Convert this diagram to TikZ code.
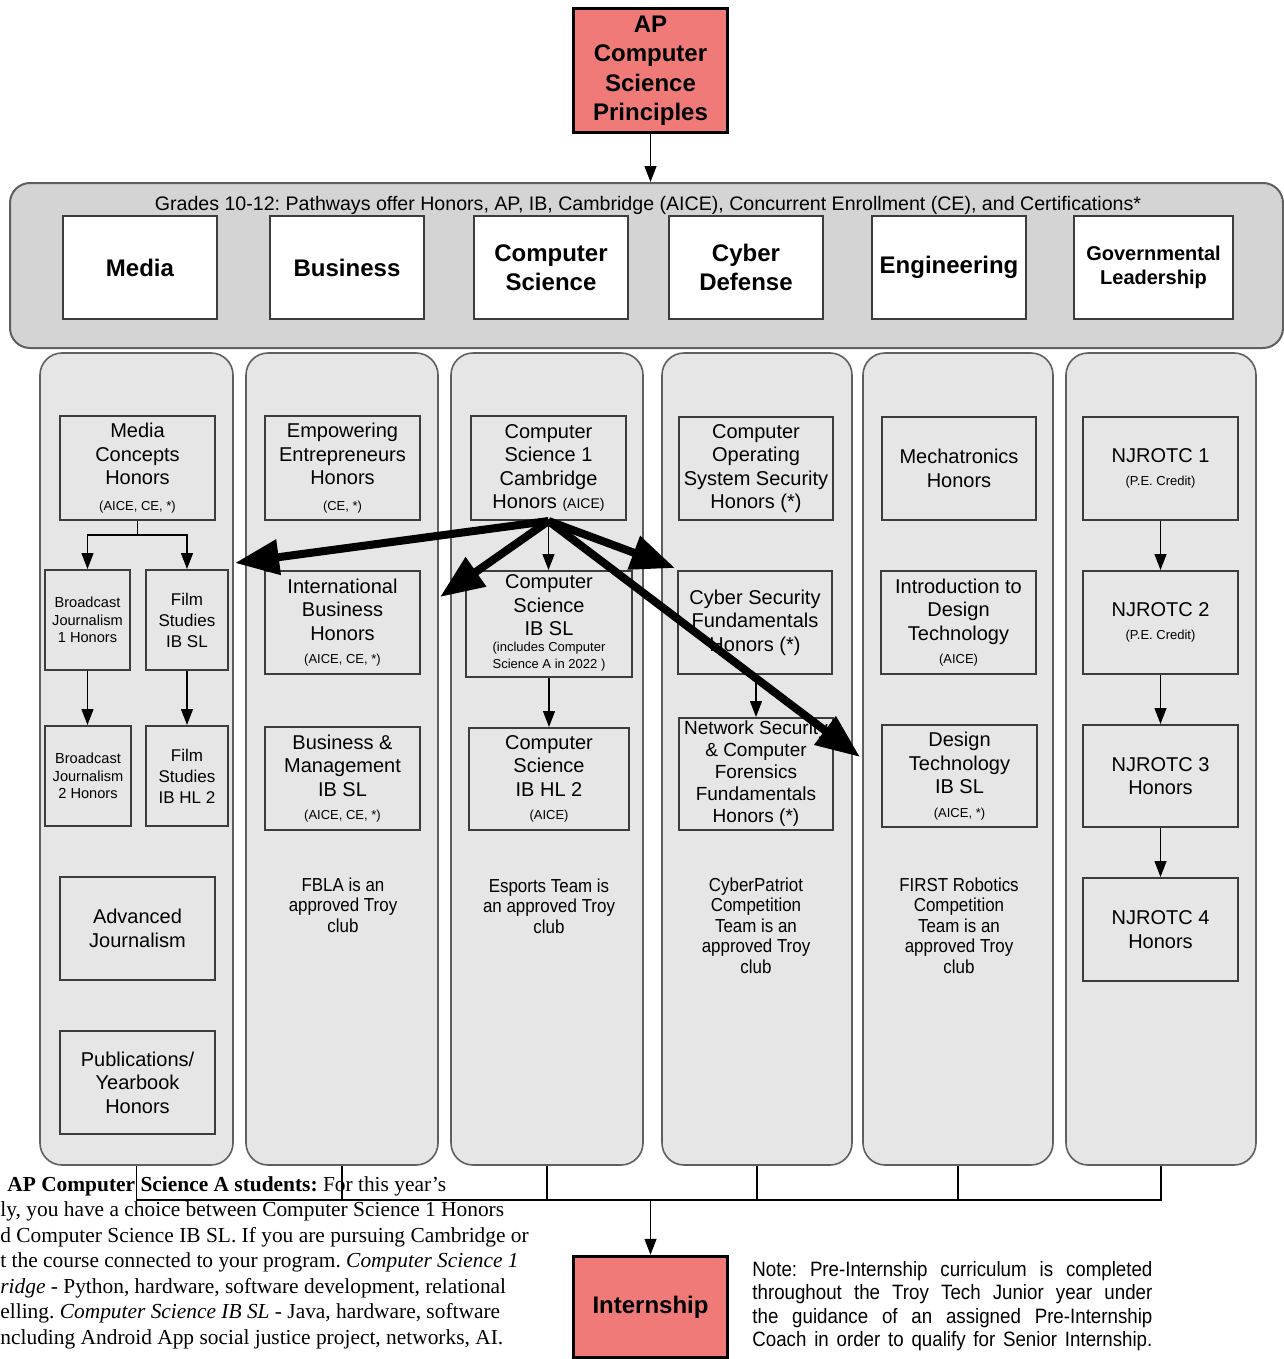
\documentclass[tikz,border=0pt]{standalone}
\usepackage{fontspec}
\setmainfont{Liberation Sans}
\newfontfamily\serifnote{Liberation Serif}
\newfontfamily\narrowsans[FakeStretch=0.9]{Liberation Sans}
\usetikzlibrary{arrows.meta}
\definecolor{apred}{RGB}{240,122,120}
\definecolor{bandgray}{RGB}{212,212,212}
\definecolor{colgray}{RGB}{230,230,230}
\definecolor{edgegray}{RGB}{60,60,60}
\definecolor{coledge}{RGB}{95,95,95}
\newcommand\myfs[2]{\fontsize{#1}{#2}\selectfont}
\newcommand\jline[1]{\makebox[200pt][s]{#1}}
\frenchspacing
\begin{document}
\begin{tikzpicture}[x=0.5pt,y=-0.5pt,
  sz/.style 2 args={minimum width=#1*0.5pt, minimum height=#2*0.5pt},
  redbox/.style={draw=black, line width=1.75pt, fill=apred, align=center, inner sep=0pt},
  bandbox/.style={draw=coledge, line width=1pt, fill=bandgray, rounded corners=10pt, inner sep=0pt},
  pathbox/.style={draw=edgegray, line width=0.8pt, fill=white, align=center, inner sep=0pt, font=\bfseries\myfs{12}{14.5}},
  colbox/.style={draw=coledge, line width=0.8pt, fill=colgray, rounded corners=11pt, inner sep=0pt},
  course/.style={draw=edgegray, line width=1pt, fill=colgray, align=center, inner sep=0pt, font=\myfs{10}{11.75}},
  clubtext/.style={align=center, inner sep=0pt, anchor=north, font=\narrowsans\myfs{9.4}{10.25}},
  smallarrow/.style={line width=0.65pt, -{Triangle[length=8pt,width=6pt]}},
  plainline/.style={line width=0.65pt},
  bigarrow/.style={line width=4pt, -{Triangle[length=22pt,width=17pt]}}
]
\useasboundingbox (0,0) rectangle (1284,1359);

% top
\node[redbox, sz={154}{124}, font=\bfseries\myfs{12}{14.75}] (ap) at (650.5,70.5) {AP\\Computer\\Science\\Principles};

% band with pathways
\node[bandbox, sz={1273}{165}] (band) at (646.5,265.5) {};
\node[inner sep=0pt, font=\myfs{9.8}{11}] (hdr) at (648,205) {Grades 10-12: Pathways offer Honors, AP, IB, Cambridge (AICE), Concurrent Enrollment (CE), and Certifications*};
\node[pathbox, sz={154}{103}] (pmedia) at (140,267.5) {Media};
\node[pathbox, sz={154}{103}] (pbus) at (347,267.5) {Business};
\node[pathbox, sz={154}{103}] (pcs) at (551,267.5) {Computer\\Science};
\node[pathbox, sz={154}{103}] (pcyb) at (746,267.5) {Cyber\\Defense};
\node[pathbox, sz={154}{103}] (peng) at (949,267.5) {Engineering};
\node[pathbox, sz={159}{103}, font=\bfseries\myfs{10}{12}] (pgov) at (1153.5,267.5) {Governmental\\Leadership};

\draw[smallarrow] (ap.south) -- (ap.south |- band.north);

% columns
\node[colbox, sz={193}{812}] (col1) at (136.5,759) {};
\node[colbox, sz={192}{812}] (col2) at (342,759) {};
\node[colbox, sz={192}{812}] (col3) at (547,759) {};
\node[colbox, sz={190}{812}] (col4) at (757,759) {};
\node[colbox, sz={190}{812}] (col5) at (958,759) {};
\node[colbox, sz={190}{812}] (col6) at (1161,759) {};

% column 1: media
\node[course, sz={155}{104}] (mch) at (137.5,468) {Media\\Concepts\\Honors\\[1pt]\myfs{6.5}{11.75}(AICE, CE, *)};
\node[course, sz={85}{100}, font=\myfs{7.3}{8.75}] (bj1) at (87.5,620) {Broadcast\\Journalism\\1 Honors};
\node[course, sz={82}{100}, font=\myfs{8.5}{10.5}] (fs1) at (187,620) {Film\\Studies\\IB SL};
\node[course, sz={86}{100}, font=\myfs{7.3}{8.75}] (bj2) at (88,776) {Broadcast\\Journalism\\2 Honors};
\node[course, sz={82}{100}, font=\myfs{8.5}{10.5}] (fs2) at (187,776) {Film\\Studies\\IB HL 2};
\node[course, sz={155}{103}] (adv) at (137.5,928.5) {Advanced\\Journalism};
\node[course, sz={155}{103}] (pub) at (137.5,1082.5) {Publications/\\Yearbook\\Honors};

\coordinate (mjoin) at (137.5,535);
\draw[plainline] (mch.south) -- (mjoin);
\draw[smallarrow] (mjoin) -| (bj1.north);
\draw[smallarrow] (mjoin) -| (fs1.north);
\draw[smallarrow] (bj1.south) -- (bj1.south |- bj2.north);
\draw[smallarrow] (fs1.south) -- (fs2.north);

% column 2: business
\node[course, sz={155}{104}] (eeh) at (342.5,468) {Empowering\\Entrepreneurs\\Honors\\[1pt]\myfs{6.5}{11.75}(CE, *)};
\node[course, sz={155}{103}] (ibh) at (342.5,622.5) {International\\Business\\Honors\\\myfs{6.5}{11.75}(AICE, CE, *)};
\node[course, sz={155}{103}] (bm) at (342.5,778.5) {Business \&\\Management\\IB SL\\\myfs{6.5}{11.75}(AICE, CE, *)};
\node[clubtext] (fbla) at (343,877) {FBLA is an\\approved Troy\\club};

% column 3: computer science
\node[course, sz={155}{104}] (cs1) at (548.5,468) {Computer\\Science 1\\Cambridge\\Honors {\myfs{7}{11.75}(AICE)}};
\node[course, sz={166}{106}] (csib) at (549,624) {Computer\\Science\\IB SL\\{\myfs{6.5}{8.5}\begin{tabular}{@{}c@{}}(includes Computer\\Science A in 2022 )\end{tabular}}};
\node[course, sz={160}{102}] (cshl) at (549,779) {Computer\\Science\\IB HL 2\\\myfs{6.5}{11.75}(AICE)};
\node[clubtext] (esp) at (549,878) {Esports Team is\\an approved Troy\\club};
\draw[smallarrow] (cs1.south) -- (cs1.south |- csib.north);
\draw[smallarrow] (csib.south) -- (csib.south |- cshl.north);

% column 4: cyber defense
\node[course, sz={154}{103}] (coss) at (756,468.5) {Computer\\Operating\\System Security\\Honors (*)};
\node[course, sz={154}{103}] (csf) at (755,622.5) {Cyber Security\\Fundamentals\\Honors (*)};
\node[course, sz={154}{112}, font=\myfs{9.5}{11}] (nsf) at (756,774) {Network Security\\\& Computer\\Forensics\\Fundamentals\\Honors (*)};
\node[clubtext] (cpat) at (756,877) {CyberPatriot\\Competition\\Team is an\\approved Troy\\club};
\draw[smallarrow] (csf.south -| nsf.north) -- (nsf.north);

% column 5: engineering
\node[course, sz={154}{103}] (mech) at (959,468.5) {Mechatronics\\Honors};
\node[course, sz={155}{103}] (idt) at (958.5,622.5) {Introduction to\\Design\\Technology\\\myfs{6.5}{11.75}(AICE)};
\node[course, sz={155}{102}] (dt) at (959.5,776) {Design\\Technology\\IB SL\\\myfs{6.5}{11.75}(AICE, *)};
\node[clubtext] (frc) at (959,877) {FIRST Robotics\\Competition\\Team is an\\approved Troy\\club};

% column 6: governmental leadership
\node[course, sz={155}{103}] (nj1) at (1160.5,468.5) {NJROTC 1\\\myfs{6.5}{11.75}(P.E. Credit)};
\node[course, sz={155}{103}] (nj2) at (1160.5,622.5) {NJROTC 2\\\myfs{6.5}{11.75}(P.E. Credit)};
\node[course, sz={155}{102}] (nj3) at (1160.5,776) {NJROTC 3\\Honors};
\node[course, sz={155}{103}] (nj4) at (1160.5,929.5) {NJROTC 4\\Honors};
\draw[smallarrow] (nj1) -- (nj2);
\draw[smallarrow] (nj2) -- (nj3);
\draw[smallarrow] (nj3) -- (nj4);

% thick arrows from Computer Science 1
\coordinate (tmedia) at (235,563);
\coordinate (tbus) at (440,597);
\coordinate (tcyb) at (675,568);
\coordinate (teng) at (860,757);
\draw[bigarrow] (cs1.south) -- (tmedia);
\draw[bigarrow] (cs1.south) -- (tbus);
\draw[bigarrow] (cs1.south) -- (tcyb);
\draw[bigarrow] (cs1.south) -- (teng);

% bottom bus to internship
\node[redbox, sz={154}{101}, font=\bfseries\myfs{12}{14.5}] (intern) at (650.5,1307) {Internship};
\coordinate (bus) at (650.5,1200);
\draw[plainline] (col1.south) |- (col6.south |- bus) -- (col6.south);
\draw[plainline] (col2.south) -- (col2.south |- bus);
\draw[plainline] (col3.south) -- (col3.south |- bus);
\draw[plainline] (col4.south) -- (col4.south |- bus);
\draw[plainline] (col5.south) -- (col5.south |- bus);
\draw[smallarrow] (bus) -- (intern.north);

% notes
\node[anchor=north west, inner sep=0pt, align=left, font=\narrowsans\myfs{10.4}{11.75}] (note) at (752,1261) {\jline{Note: Pre-Internship curriculum is completed}\\\jline{throughout the Troy Tech Junior year under}\\\jline{the guidance of an assigned Pre-Internship}\\\jline{Coach in order to qualify for Senior Internship.}};
\node[anchor=north west, inner sep=0pt, align=left, font=\serifnote\myfs{10.7}{12.75}] (apnote) at (0,1176) {\hspace*{3.5pt}\textbf{AP Computer Science A students:} For this year’s\\ly, you have a choice between Computer Science 1 Honors\\d Computer Science IB SL. If you are pursuing Cambridge or\\t the course connected to your program. \textit{Computer Science 1}\\\textit{ridge} - Python, hardware, software development, relational\\elling. \textit{Computer Science IB SL} - Java, hardware, software\\ncluding Android App social justice project, networks, AI.};
\end{tikzpicture}
\end{document}
